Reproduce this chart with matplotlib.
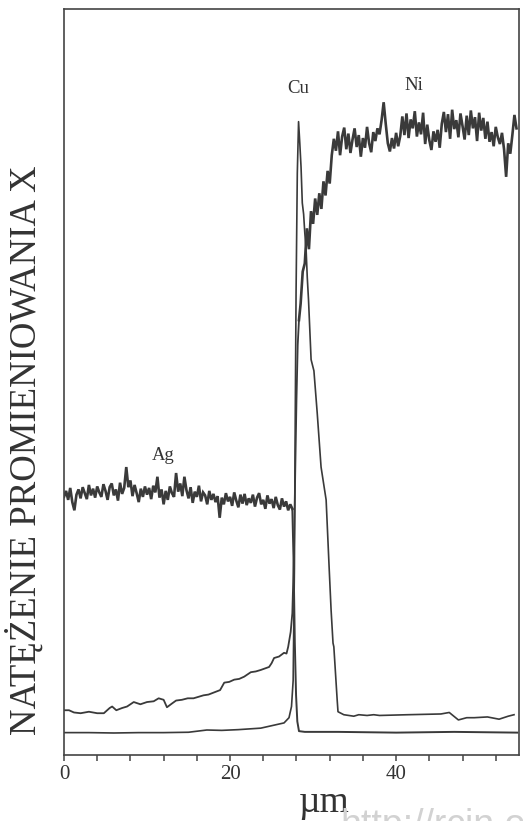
import matplotlib
matplotlib.use("Agg")
import matplotlib.pyplot as plt
import numpy as np

plt.rcParams["font.family"] = ["Liberation Serif", "DejaVu Serif"]

# --- data (x in um, intensity in arbitrary units 0-100) ---

# Ag: noisy plateau sampled every 0.25 um from 0 to 27.5
ag_plateau = [
    34.6, 35.4, 34.2, 35.8, 33.9, 32.8, 34.9, 35.6, 34.4, 35.9,
    35.1, 34.3, 36.2, 34.8, 35.7, 34.5, 36.0, 35.2, 34.6, 36.3,
    35.4, 34.2, 35.9, 36.4, 34.8, 35.6, 34.1, 36.5, 35.0, 35.8,
    38.6, 35.9, 36.8, 34.7, 36.2, 35.1, 33.9, 35.7, 34.6, 36.0,
    34.9, 35.8, 34.3, 36.1, 35.2, 37.3, 34.5, 35.6, 33.6, 35.4,
    34.2, 36.0, 35.1, 34.6, 37.8, 35.3, 36.4, 34.7, 37.3, 35.5,
    34.4, 35.9, 33.8, 35.3, 34.6, 36.1, 34.0, 35.2, 34.8, 33.6,
    35.4, 34.2, 35.0, 33.9, 34.7, 31.8, 34.5, 33.6, 35.1, 34.0,
    34.6, 33.4, 35.2, 34.1, 33.2, 34.9, 33.7, 35.0, 33.5, 34.4,
    33.8, 34.9, 33.3, 34.5, 35.1, 33.6, 34.2, 33.0, 34.8, 33.7,
    34.3, 33.1, 34.6, 33.5, 32.9, 34.4, 33.3, 34.0, 32.8, 33.6,
    33.0,
]
ag_tail_x = [27.65, 27.8, 27.95, 28.1, 28.3, 29.0, 33.0, 40.0, 47.0, 54.6]
ag_tail_y = [26.0, 15.0, 8.0, 4.5, 3.2, 3.1, 3.1, 3.0, 3.1, 3.0]

# Ni: smooth low part on the Ag side, then steep rise
ni_low_x = [0.1, 0.6, 1.2, 2.0, 3.0, 4.0, 4.8, 5.5, 5.8, 6.3, 7.0, 7.6, 8.4,
            9.2, 10.0, 10.8, 11.4, 12.0, 12.4, 13.0, 13.5, 14.2, 14.9, 15.6,
            16.2, 16.8, 17.4, 18.1, 18.8, 19.3, 19.9, 20.5, 21.1, 21.7, 22.1,
            22.5, 23.1, 23.7, 24.2, 24.7, 25.0, 25.3, 25.9, 26.5, 26.8, 27.0,
            27.3, 27.5, 27.7, 27.85, 28.0, 28.15, 28.3]
ni_low_y = [6.0, 6.0, 5.7, 5.6, 5.8, 5.6, 5.6, 6.3, 6.5, 6.0, 6.3, 6.5, 7.1,
            6.8, 7.1, 7.2, 7.6, 7.4, 6.4, 6.9, 7.3, 7.4, 7.6, 7.6,
            7.8, 8.0, 8.1, 8.4, 8.7, 9.7, 9.8, 10.1, 10.2, 10.5, 10.8,
            11.1, 11.2, 11.4, 11.6, 11.8, 12.3, 13.0, 13.2, 13.7, 13.6, 14.5,
            16.5, 19.0, 27.0, 38.0, 47.6, 55.0, 58.3]
# Ni: noisy part sampled every 0.25 um from 28.5 to 54.5
ni_noisy = [
    60.5, 64.8, 65.9, 70.6, 67.8, 72.9, 71.2, 74.6, 72.4, 75.3,
    73.2, 76.9, 75.0, 78.3, 76.6, 80.4, 82.6,
    81.0, 83.6, 80.4, 82.9, 84.1, 81.2, 83.3, 80.7, 82.5, 84.0,
    81.5, 83.1, 80.2, 82.7, 81.4, 84.2, 82.0, 80.8, 83.5, 82.3,
    84.0, 83.2, 85.1, 87.5, 84.6, 82.0, 80.9, 82.7, 81.3, 83.4,
    81.6, 83.0, 85.6, 83.1, 86.0, 82.7, 85.2, 84.0, 86.3, 82.9,
    84.8, 83.2, 86.1, 81.9, 84.5, 82.4, 81.1, 83.6, 82.2, 83.8,
    81.4, 84.6, 86.2, 83.5, 85.9, 82.6, 86.5, 83.9, 85.1, 82.8,
    86.0, 84.3, 82.5, 85.7, 83.1, 86.4, 84.0, 85.5, 82.3, 86.1,
    83.7, 85.4, 82.6, 84.9, 82.2, 83.5, 81.6, 84.2, 82.8, 81.9,
    83.4, 81.2, 77.5, 82.0, 80.6, 83.1, 85.8, 84.0,
]

# Cu: thin line with a sharp peak at the interface
cu_x = [0.1, 3.0, 6.0, 9.0, 12.0, 15.0, 17.2, 19.0, 21.0, 23.7, 25.3, 26.5,
        27.1, 27.4, 27.6, 27.75, 27.85, 27.95, 28.1, 28.25, 28.4, 28.55,
        28.7, 28.86, 29.0, 29.16, 29.3, 29.45, 29.76, 30.1, 30.5, 30.96,
        31.57, 31.93, 32.17, 32.4, 32.5, 32.9, 33.0, 33.7, 34.9, 35.5, 36.5,
        37.3, 38.0, 41.4, 45.4, 46.4, 47.5, 48.5, 49.4, 51.0, 52.4, 53.5,
        54.2]
cu_y = [3.0, 3.0, 2.95, 3.0, 3.0, 3.05, 3.35, 3.3, 3.4, 3.6, 4.0, 4.3,
        5.0, 6.5, 10.0, 25.0, 45.0, 62.0, 78.0, 84.9, 82.0, 78.8,
        74.0, 72.5, 70.0, 67.7, 64.0, 61.0, 53.0, 51.5, 45.8, 38.6,
        34.2, 25.2, 19.4, 15.0, 14.5, 7.4, 5.8, 5.4, 5.2, 5.4, 5.3,
        5.4, 5.3, 5.4, 5.5, 5.7, 4.7, 5.0, 5.0, 5.1, 4.8, 5.2,
        5.4]

labels = {"Ag": (11.9, 40.2), "Cu": (28.2, 89.4), "Ni": (42.2, 89.8)}
x_ticks = [0, 4, 8, 12, 16, 20, 24, 28, 32, 36, 40, 44, 48, 52]
x_ticklabels = {0: "0", 20: "20", 40: "40"}

# sampling grids of the noisy parts
ag_grid = np.linspace(0.0, 27.5, len(ag_plateau))
ni_grid = np.linspace(28.5, 54.5, len(ni_noisy))


def main():
    fig = plt.figure(figsize=(5.23, 8.21), dpi=100)
    ax = fig.add_axes([64 / 523, 1 - 755 / 821, 455 / 523, 746 / 821])

    ink = "#3a3a3a"
    # Ag: dense noisy plateau drawn heavier, then the drop to background
    ax.plot(ag_grid, ag_plateau, color=ink, lw=1.9, solid_joinstyle="miter")
    ax.plot([ag_grid[-1]] + ag_tail_x, [ag_plateau[-1]] + ag_tail_y,
            color=ink, lw=1.4)
    # Ni: thin low part, heavier noisy part
    ax.plot(ni_low_x, ni_low_y, color=ink, lw=1.3)
    ax.plot(np.concatenate([[ni_low_x[-1]], ni_grid]),
            np.concatenate([[ni_low_y[-1]], ni_noisy]),
            color=ink, lw=1.9, solid_joinstyle="miter")
    # Cu
    ax.plot(cu_x, cu_y, color=ink, lw=1.2)

    for name, (lx, ly) in labels.items():
        ax.text(lx, ly, name, ha="center", va="center", fontsize=13.5,
                color="#333333")

    ax.set_xlim(0, 54.8)
    ax.set_ylim(0, 100)
    ax.set_xticks(x_ticks)
    ax.set_xticklabels([x_ticklabels.get(t, "") for t in x_ticks])
    ax.set_yticks([])
    ax.tick_params(axis="x", direction="out", length=4.5, width=1.1,
                   color="#444444", labelsize=15, pad=3,
                   labelcolor="#333333")

    for spine in ax.spines.values():
        spine.set_linewidth(1.2)
        spine.set_color("#444444")

    fig.text(25 / 523, 1 - 450 / 821, "NATĘŻENIE PROMIENIOWANIA X",
             rotation=90, ha="center", va="center", fontsize=26.5,
             color="#333333")
    fig.text(324 / 523, 1 - 812 / 821, "µm", ha="center", va="baseline",
             fontsize=27, color="#333333")
    # faint watermark, cut by the bottom edge as in the scan
    fig.text(340 / 523, 1 - 808 / 821, "http://rcin.org.pl", ha="left",
             va="top", fontsize=27, color="#d2d2d2",
             family=["Liberation Sans", "DejaVu Sans"])

    fig.savefig("out.png", dpi=100)


if __name__ == "__main__":
    main()
